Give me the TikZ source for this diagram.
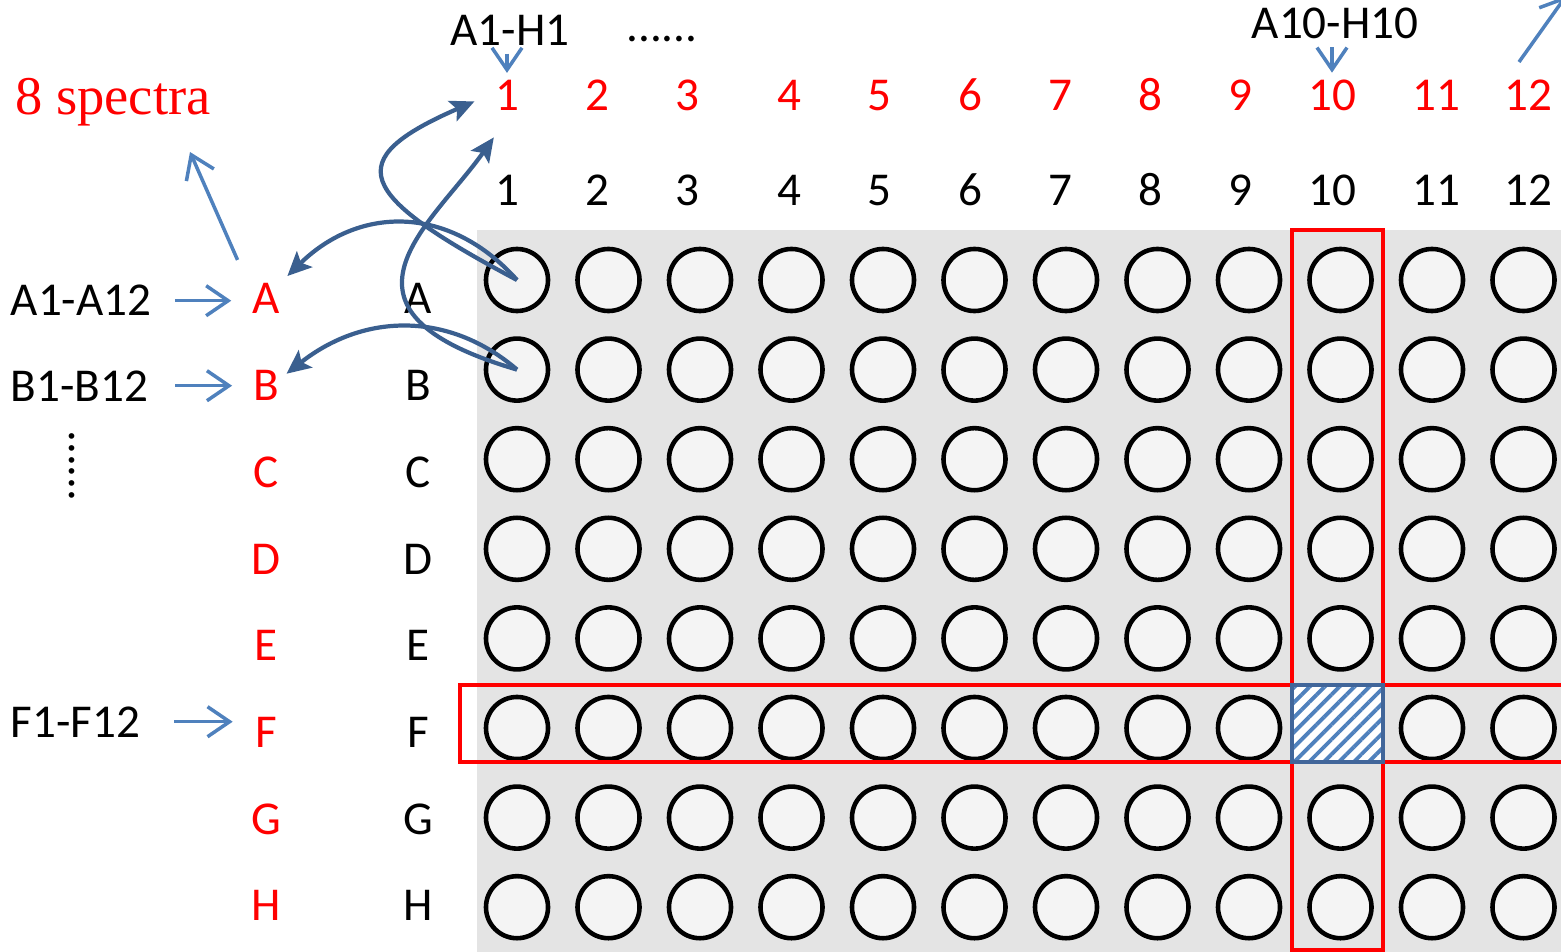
\documentclass[tikz,border=0pt]{standalone}
\usepackage{fontspec}
\setmainfont{Carlito}
\newfontfamily\timesfont{Liberation Serif}
\usetikzlibrary{arrows.meta,patterns.meta}
\definecolor{liteblue}{HTML}{4F81BD}
\definecolor{curveblue}{HTML}{3A5F8F}
\definecolor{hatchblue}{HTML}{41669A}
\definecolor{plategray}{HTML}{E4E4E4}
\definecolor{wellgray}{HTML}{F4F4F4}

\begin{document}
\begin{tikzpicture}[
    x=0.01cm, y=-0.01cm,
    font=\fontsize{13.4}{15}\selectfont,
    lbl/.style={anchor=base, inner sep=2pt},
    redlbl/.style={lbl, text=red},
    well/.style={circle, draw=black, line width=1.3pt, fill=wellgray, minimum size=6.2mm, inner sep=0pt},
    hilite/.style={draw=red, line width=1.2pt},
    hatchcell/.style={draw=hatchblue, line width=1.2pt, preaction={fill=white},
      pattern={Lines[angle=45, distance=3pt, line width=1.1pt]}, pattern color=liteblue},
    lite/.style={-{Straight Barb[length=2.2mm, width=3mm]}, liteblue, line width=1pt},
    link/.style={-{Stealth[length=2.4mm, width=2.2mm, inset=0.5mm]}, curveblue, line width=1.2pt}
  ]
  \useasboundingbox (0,0) rectangle (1561,952);

  % plate with 8 x 12 wells
  \fill[plategray] (477,230) rectangle (1561,952);
  \foreach \r [count=\i] in {A,...,H} {
    \foreach \c in {1,...,12}
      \node[well] (w\r\c) at ({517+91.5*(\c-1)},{280+89.6*(\i-1)}) {};
  }

  % row labels (red copy and plate letters)
  \foreach \r [count=\i] in {A,...,H} {
    \node[redlbl] (r\r) at (266,{314+86.7*(\i-1)}) {\r};
    \node[lbl] (k\r) at (418,{314+86.7*(\i-1)}) {\r};
  }

  % column labels
  \foreach \c/\lx in {1/507,2/597,3/687,4/789,5/879,6/970,7/1060,8/1150,9/1240,10/1332,11/1436,12/1528} {
    \node[redlbl] (rc\c) at (\lx,111) {\c};
    \node[lbl] (kc\c) at (\lx,206) {\c};
  }

  % selected column and row
  \draw[hilite] (1292,230) rectangle (1383,950);
  \draw[hilite] (460,685) rectangle (1580,762);
  \draw[hatchcell] (1292,685) rectangle (1383,762);

  % texts outside the plate
  \node[lbl, text=red, font=\timesfont\fontsize{15.5}{18}\selectfont] (spec) at (113,115) {8 spectra};
  \node[lbl, anchor=base west] (lA) at (3,316) {A1-A12};
  \node[lbl, anchor=base west] (lB) at (3,401) {B1-B12};
  \node[lbl, anchor=base west] (lF) at (3,737) {F1-F12};
  \node[rotate=-90] (vdots) at (72,466) {......};
  \node[lbl] (topA) at (510,46) {A1-H1};
  \node[lbl] (topdots) at (662,42) {......};
  \node[lbl] (topJ) at (1335,39) {A10-H10};
  \coordinate (specTip) at (190,152);
  \coordinate (trFrom) at (1519,62);
  \coordinate (trTo) at (1566,-4);

  % light arrows
  \draw[lite, shorten <=4.5pt, shorten >=3.8pt] (lA.east) -- (lA.east -| rA.west);
  \draw[lite, shorten <=5.5pt, shorten >=3.8pt] (lB.east) -- (lB.east -| rB.west);
  \draw[lite, shorten <=7.5pt, shorten >=4.2pt] (lF.east) -- (lF.east -| rF.west);
  \draw[lite, shorten <=5pt] (rA.north west) -- (specTip);
  \draw[lite] (rc1.north |- topA.south) -- (rc1.north);
  \draw[lite] (rc10.north |- topJ.south) -- (rc10.north);
  \draw[lite] (trFrom) -- (trTo);

  % curved links from the wells
  \draw[link] (wA1.center) .. controls (450,205) and (360,205) .. (rA.north east);
  \draw[link, shorten >=4pt] (wA1.center) .. controls (355,194) and (340,160) .. (rc1.west);
  \draw[link] (wB1.center) .. controls (450,312) and (365,312) .. (rB.30);
  \draw[link, shorten >=6.5pt] (wB1.center) .. controls (313,310) and (432,225) .. (rc1.south);

\end{tikzpicture}
\end{document}
